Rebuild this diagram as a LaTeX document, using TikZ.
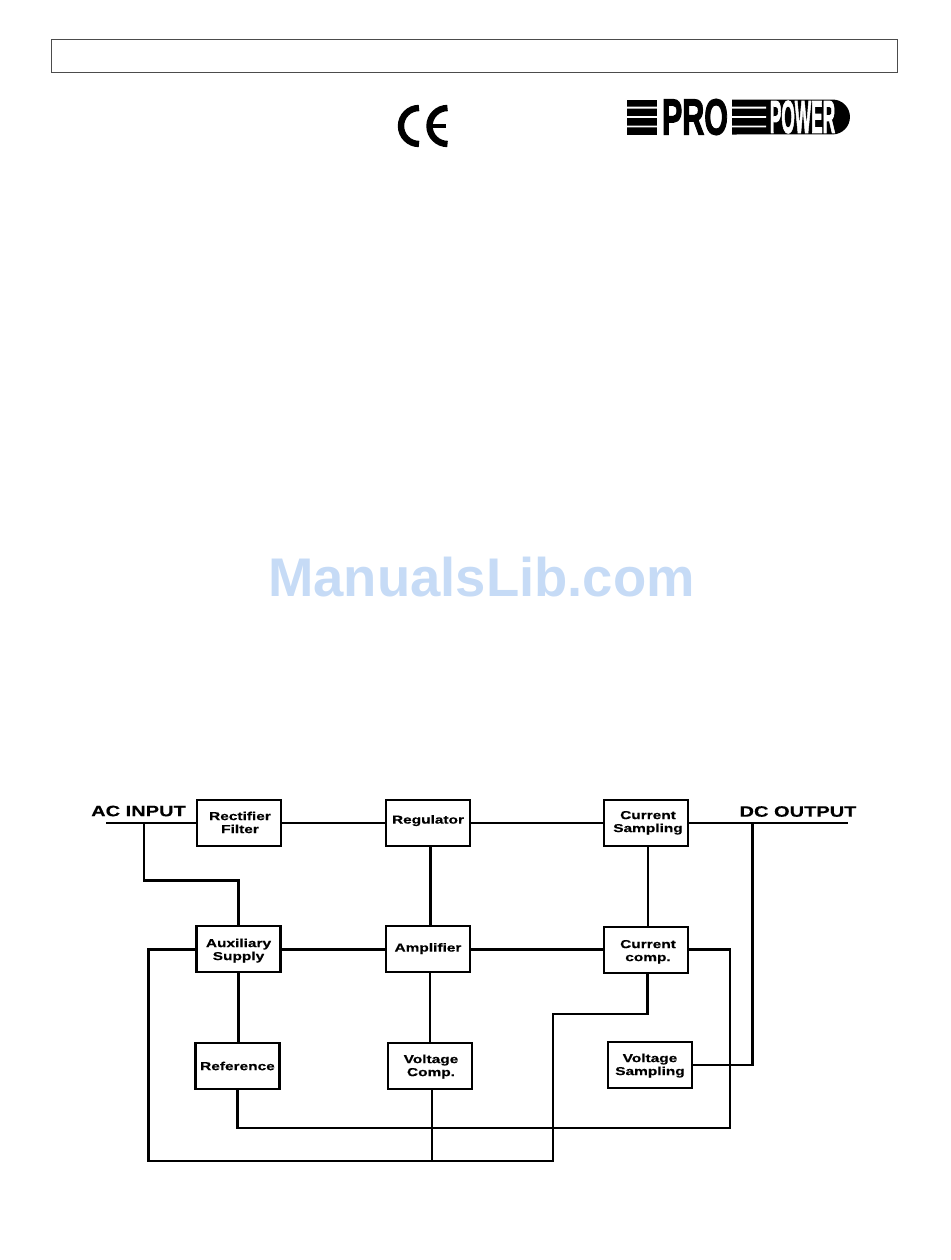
\documentclass[tikz,border=0pt]{standalone}
\usepackage{fontspec}
\usepackage{graphicx}
\newfontfamily\labfont{Liberation Sans}[FakeStretch=1.33,FakeBold=0.35]
\newfontfamily\plainfont{Liberation Sans}
\newfontfamily\logofont{Liberation Sans}[FakeBold=2.6]
\definecolor{wmark}{HTML}{C6DBF6}
\newcommand\shiftedlabel[3]{\hspace*{#1}\raisebox{#2}[\height][\depth]{\begin{tabular}{@{}c@{}}#3\end{tabular}}}
\tikzset{
  blockbox/.style={draw=black,line width=1.8pt,fill=white,minimum width=63pt,minimum height=34.5pt,inner sep=0pt,align=center,font=\labfont\bfseries\fontsize{8.7pt}{9.75pt}\selectfont},
  wire/.style={draw=black,line width=1.6pt,line join=miter},
  biglabel/.style={inner sep=0pt,font=\labfont\bfseries\fontsize{11.3pt}{12pt}\selectfont},
  cestroke/.style={draw=black,line width=4.8pt},
}
\begin{document}
\begin{tikzpicture}[x=.75pt,y=-.75pt]
\useasboundingbox (0,0) rectangle (950,1260);
% header
\node[draw=black!70,line width=.8pt,minimum width=634.5pt,minimum height=25pt,inner sep=0pt] (head) at (474.5,56) {};
% CE mark
\draw[cestroke] (419,108) arc[start angle=90,end angle=270,radius=13.5pt];
\draw[cestroke] (447.5,108) arc[start angle=90,end angle=270,radius=13.5pt];
\draw[cestroke,line width=3.6pt] (431,126) -- (446,126);
% logo
\fill (627,99.5) rectangle (657,134.5);
\fill[white] (627,106.7) rectangle (657,108.5) (627,116) rectangle (657,117.8) (627,125.5) rectangle (657,127.3);
\node[inner sep=0pt] (pro) at (695,117) {\resizebox{49.5pt}{26.5pt}{\logofont\bfseries PRO}};
\fill (732,99.5) -- (832.5,99.5) arc[start angle=90,end angle=-90,radius=13.1pt] -- (732,134.5) -- cycle;
\fill[white] (732,106.7) rectangle (766,108.5) (732,116) rectangle (766,117.8) (732,125.5) rectangle (766,127.3);
\node[inner sep=0pt,text=white] (power) at (802.5,117) {\resizebox{49pt}{24pt}{\logofont\bfseries POWER}};
% watermark
\node[inner sep=0pt,text=wmark] (wm) at (481.5,577) {\resizebox{320pt}{!}{\plainfont\bfseries ManualsLib.com}};
% blocks
\node[blockbox] (rect) at (239,823) {\shiftedlabel{1.5pt}{-0.75pt}{Rectifier\\Filter}};
\node[blockbox] (reg) at (428,823) {\shiftedlabel{0pt}{1.5pt}{Regulator}};
\node[blockbox] (cs) at (646,823) {\shiftedlabel{3pt}{0pt}{Current\\Sampling}};
\node[blockbox] (aux) at (238.5,949) {\shiftedlabel{0pt}{-1.5pt}{Auxiliary\\Supply}};
\node[blockbox] (amp) at (428,949) {\shiftedlabel{0pt}{0pt}{Amplifier}};
\node[blockbox] (cc) at (646,950) {\shiftedlabel{3pt}{-1.5pt}{Current\\comp.}};
\node[blockbox] (ref) at (237.5,1066) {Reference};
\node[blockbox] (vc) at (430,1066) {\shiftedlabel{1.5pt}{-0.75pt}{Voltage\\Comp.}};
\node[blockbox] (vs) at (650,1065) {\shiftedlabel{0pt}{-0.75pt}{Voltage\\Sampling}};
% outer labels
\node[biglabel] (ac) at (138.5,811) {AC INPUT};
\node[biglabel] (dc) at (798,811.5) {DC OUTPUT};
% free ends and bends
\coordinate (acin) at (106,823);
\coordinate (acT) at (144,823);
\coordinate (acB) at (144,880.5);
\coordinate (dcout) at (848,823);
\coordinate (dcT) at (752.5,823);
\coordinate (colA) at (430.5,880);
\coordinate (colB) at (648,880);
\coordinate (rowY) at (0,949.5);
\coordinate (auxL) at (148.5,1161);
\coordinate (busR) at (553,1161);
\coordinate (ccB) at (647.5,1014);
\coordinate (ccR) at (730,1128);
\coordinate (vcB) at (431.5,1161);
\draw[wire] (acin) -- (rect.west);
\draw[wire] (acT) -- (acB) -| (aux.north);
\draw[wire] (rect.east) -- (reg.west);
\draw[wire] (reg.east) -- (cs.west);
\draw[wire] (cs.east) -- (dcout);
\draw[wire] (dcT) |- (vs.east);
\draw[wire] (colA |- reg.south) -- (colA |- amp.north);
\draw[wire] (colB |- cs.south) -- (colB |- cc.north);
\draw[wire] (aux.east |- rowY) -- (amp.west |- rowY);
\draw[wire] (amp.east |- rowY) -- (cc.west |- rowY);
\draw[wire] (aux.south) -- (aux.south |- ref.north);
\draw[wire] (vc.north |- amp.south) -- (vc.north);
\draw[wire] (aux.west |- rowY) -| (auxL) -- (busR) |- (ccB) -- (ccB |- cc.south);
\draw[wire] (cc.east |- rowY) -| (ccR) -- (ccR -| ref.south) -- (ref.south);
\draw[wire,line width=1.5pt] (vcB |- vc.south) -- (vcB);
\end{tikzpicture}
\end{document}
